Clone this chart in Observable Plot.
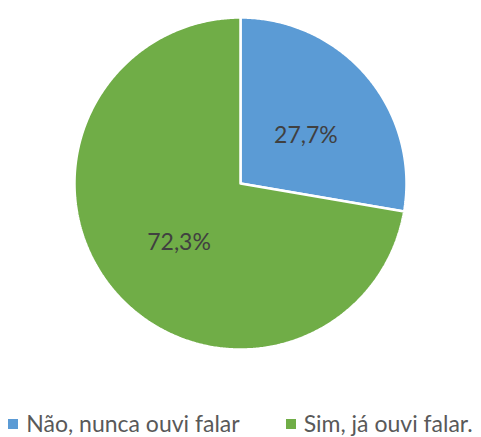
<!DOCTYPE html>
<html>
<head>
<meta charset="utf-8">
<script src="https://cdn.jsdelivr.net/npm/d3@7"></script>
<script src="https://cdn.jsdelivr.net/npm/@observablehq/plot@0.6"></script>
<style>
  html, body { margin: 0; padding: 0; background: #fff; }
  #wrap { position: relative; width: 481px; height: 437px; font-family: Lato, "Open Sans", sans-serif; }
  #legend { position: absolute; left: 0; top: 411px; width: 481px; height: 24px; line-height: 24px; display: flex; justify-content: center; align-items: center; font-size: 23px; color: #595959; }
  .item { display: flex; align-items: center; }
  .sw { width: 10px; height: 10px; margin-right: 8px; margin-top: 2px; }
  .item + .item { margin-left: 46px; }
</style>
</head>
<body>
<div id="wrap"><div id="chart"></div><div id="legend"></div></div>
<script>
const categories = ["Não, nunca ouvi falar", "Sim, já ouvi falar."];
const values = [27.7, 72.3];
const labels = ["27,7%", "72,3%"];
const colors = ["#5B9BD5", "#70AD47"];

const total = d3.sum(values);
let acc = 0;
const slices = values.map((v, i) => {
  const a0 = acc / total * 2 * Math.PI;
  acc += v;
  const a1 = acc / total * 2 * Math.PI;
  return {cat: categories[i], label: labels[i], a0, a1};
});

function slicePoints(s) {
  const pts = [{x: 0, y: 0}];
  const n = Math.max(2, Math.ceil((s.a1 - s.a0) / (Math.PI / 360)));
  for (let k = 0; k <= n; k++) {
    const a = s.a0 + (s.a1 - s.a0) * k / n;
    pts.push({x: Math.sin(a), y: Math.cos(a)});
  }
  pts.push({x: 0, y: 0});
  return pts;
}

const labelData = slices.map(s => {
  const m = (s.a0 + s.a1) / 2;
  return {x: 0.5 * Math.sin(m), y: 0.5 * Math.cos(m), text: s.label};
});

const chart = Plot.plot({
  width: 481,
  height: 380,
  marginLeft: 74,
  marginRight: 75,
  marginTop: 17,
  marginBottom: 31,
  style: {fontFamily: "Lato, 'Open Sans', sans-serif", background: "white"},
  x: {domain: [-1, 1], axis: null},
  y: {domain: [-1, 1], axis: null},
  marks: [
    ...slices.map((s, i) => Plot.line(slicePoints(s), {
      x: "x", y: "y", fill: colors[i], stroke: "white", strokeWidth: 2.5, strokeLinejoin: "miter"
    })),
    Plot.text(labelData, {x: "x", y: "y", text: "text", fontSize: 23, fill: "#404040", textAnchor: "middle", lineAnchor: "middle", dx: 2, dy: 6})
  ]
});
document.getElementById("chart").appendChild(chart);

const legend = document.getElementById("legend");
categories.forEach((c, i) => {
  const item = document.createElement("div");
  item.className = "item";
  const sw = document.createElement("span");
  sw.className = "sw";
  sw.style.background = colors[i];
  const t = document.createElement("span");
  t.textContent = c;
  item.appendChild(sw);
  item.appendChild(t);
  legend.appendChild(item);
});
</script>
</body>
</html>
